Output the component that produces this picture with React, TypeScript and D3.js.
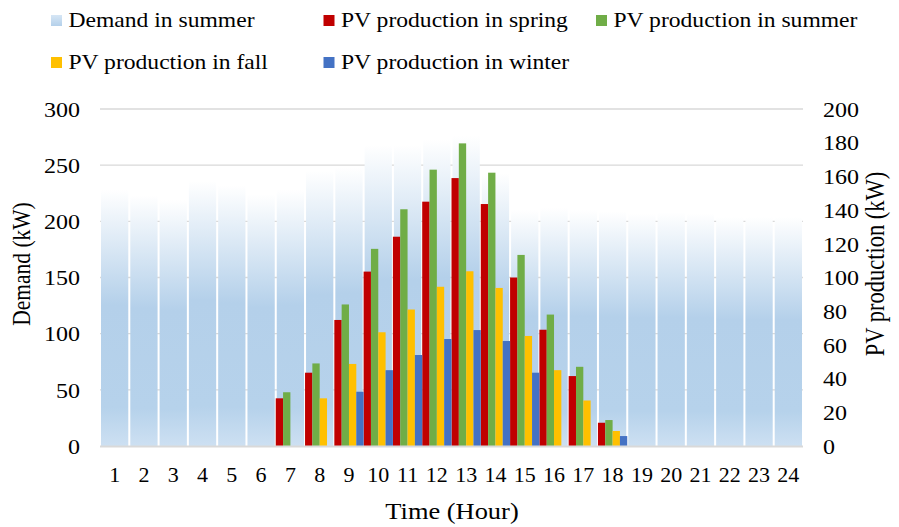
import React from "react";
import * as d3 from "d3";

const hours = ["1","2","3","4","5","6","7","8","9","10","11","12","13","14","15","16","17","18","19","20","21","22","23","24"];
const demandSummer = [228, 223, 219, 236, 232, 224, 228, 245, 248, 268, 268, 273, 276, 243, 210, 212, 210, 209, 207, 208, 207, 204, 204, 204];
const pvSpring = [0, 0, 0, 0, 0, 0, 28.3, 43.5, 74.8, 103.5, 124.2, 145, 159, 143.6, 100, 69, 41.5, 13.8, 0, 0, 0, 0, 0, 0];
const pvSummer = [0, 0, 0, 0, 0, 0, 31.9, 49, 84, 117, 140.5, 164, 179.6, 162.2, 113.4, 78, 47, 15.4, 0, 0, 0, 0, 0, 0];
const pvFall = [0, 0, 0, 0, 0, 0, 0, 28.3, 48.7, 67.5, 81, 94.5, 103.7, 93.8, 65.3, 45, 27, 8.9, 0, 0, 0, 0, 0, 0];
const pvWinter = [0, 0, 0, 0, 0, 0, 0, 0, 32.2, 45, 54, 63.5, 68.8, 62.3, 43.5, 0, 0, 5.9, 0, 0, 0, 0, 0, 0];
const demandTicks = [0, 50, 100, 150, 200, 250, 300];
const pvTicks = [0, 20, 40, 60, 80, 100, 120, 140, 160, 180, 200];

const pvSeries = [
  { name: "PV production in spring", values: pvSpring, color: "#C00000" },
  { name: "PV production in summer", values: pvSummer, color: "#70AD47" },
  { name: "PV production in fall", values: pvFall, color: "#FFC000" },
  { name: "PV production in winter", values: pvWinter, color: "#4472C4" },
];

const W = 899, H = 527;
const L = 100, R = 803, T0 = 109, B = 446;
const FONT = "'Liberation Serif', 'Times New Roman', serif";
const TXT = "#000";

function Txt({ x, y, size = 20, sx = 1.2, anchor = "start", rotate = false, baseline = "auto", children }: any) {
  const tr = `translate(${x},${y}) scale(${sx},1)${rotate ? " rotate(-90)" : ""}`;
  return (
    <text transform={tr} fontFamily={FONT} fontSize={size} fill={TXT} textAnchor={anchor} dominantBaseline={baseline}>
      {children}
    </text>
  );
}

export default function App() {
  const x = d3.scaleBand<string>().domain(hours).range([L, R]).padding(0);
  const bw = x.bandwidth();
  const sub = d3.scaleBand<string>().domain(pvSeries.map(s => s.name)).range([0, bw]).padding(0);
  const yD = d3.scaleLinear().domain([0, 300]).range([B, T0]);
  const yP = d3.scaleLinear().domain([0, 200]).range([B, T0]);

  const legend = [
    { name: "Demand in summer", color: "url(#demGradLeg)", x: 51, y: 15 },
    { name: pvSeries[0].name, color: pvSeries[0].color, x: 323.5, y: 15 },
    { name: pvSeries[1].name, color: pvSeries[1].color, x: 596, y: 15 },
    { name: pvSeries[2].name, color: pvSeries[2].color, x: 51, y: 57 },
    { name: pvSeries[3].name, color: pvSeries[3].color, x: 323.5, y: 57 },
  ];

  return (
    <svg width={W} height={H} style={{ display: "block", position: "absolute", left: 0, top: 0 }}>
      <defs>
        <linearGradient id="demGrad" x1="0" y1="0" x2="0" y2="1">
          <stop offset="0" stopColor="#ffffff" />
          <stop offset="0.45" stopColor="#b4d0ea" />
          <stop offset="0.85" stopColor="#b6d2eb" />
          <stop offset="1" stopColor="#cde0f2" />
        </linearGradient>
        <linearGradient id="demGradLeg" x1="0" y1="0" x2="0" y2="1">
          <stop offset="0" stopColor="#d6e6f5" />
          <stop offset="1" stopColor="#b4d0ea" />
        </linearGradient>
      </defs>
      <rect x={0} y={0} width={W} height={H} fill="#fff" />

      {/* gridlines */}
      {demandTicks.filter(t => t > 0).map(t => (
        <line key={t} x1={L} x2={R} y1={yD(t)} y2={yD(t)} stroke="#d9d9d9" strokeWidth={1.4} />
      ))}

      {/* demand bars */}
      {hours.map((h, i) => (
        <rect key={h} x={(x(h) as number) + 1} width={bw - 2} y={yD(demandSummer[i])} height={B - yD(demandSummer[i])} fill="url(#demGrad)" />
      ))}

      {/* PV bars */}
      {pvSeries.map(s =>
        hours.map((h, i) =>
          s.values[i] > 0 ? (
            <rect key={s.name + h} x={(x(h) as number) + (sub(s.name) as number)} width={sub.bandwidth()} y={yP(s.values[i])} height={B - yP(s.values[i])} fill={s.color} />
          ) : null
        )
      )}

      {/* x axis line */}
      <line x1={L} x2={R} y1={B + 0.5} y2={B + 0.5} stroke="#d9d9d9" strokeWidth={2} />

      {/* left ticks */}
      {demandTicks.map(t => (
        <Txt key={t} x={80} y={yD(t) + 1} anchor="end" baseline="central">{t}</Txt>
      ))}
      {/* right ticks */}
      {pvTicks.map(t => (
        <Txt key={t} x={823} y={yP(t) + 1} anchor="start" baseline="central">{t}</Txt>
      ))}
      {/* x ticks */}
      {hours.map(h => (
        <Txt key={h} x={(x(h) as number) + bw / 2} y={482} size={22} sx={1.0} anchor="middle">{h}</Txt>
      ))}

      {/* axis titles */}
      <Txt x={30} y={264} size={21.5} sx={1.2} rotate anchor="middle">Demand (kW)</Txt>
      <Txt x={884} y={264} size={22.5} sx={1.2} rotate anchor="middle">PV production (kW)</Txt>
      <Txt x={452} y={519} size={23} sx={1.15} anchor="middle">Time (Hour)</Txt>

      {/* legend */}
      {legend.map(l => (
        <g key={l.name}>
          <rect x={l.x} y={l.y} width={11} height={11} fill={l.color} />
          <Txt x={l.x + 17.5} y={l.y + 11.7} size={20} sx={1.18}>{l.name}</Txt>
        </g>
      ))}
    </svg>
  );
}
